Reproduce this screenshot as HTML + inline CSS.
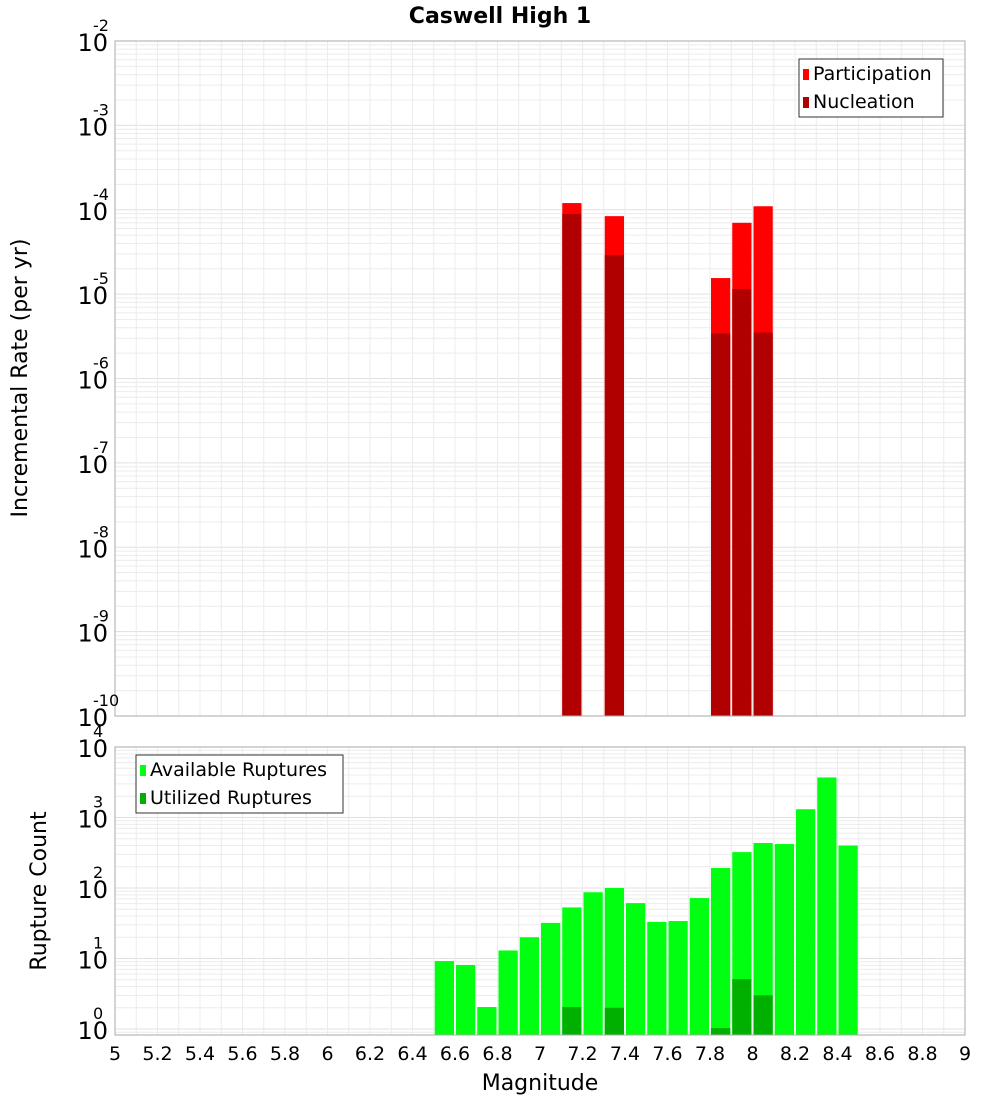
<!DOCTYPE html>
<html><head><meta charset="utf-8"><style>
body{margin:0;background:#fff}
svg{display:block;font-family:"Liberation Sans","DejaVu Sans",sans-serif}
</style></head><body>
<svg id="chart" width="1000" height="1100" xmlns="http://www.w3.org/2000/svg">
<rect width="1000" height="1100" fill="#fff"/>
<text x="500" y="23" text-anchor="middle" font-size="22" font-weight="bold" font-family="DejaVu Sans, sans-serif">Caswell High 1</text>
<g id="topPlot"></g>
<g id="botPlot"></g>
<text transform="translate(27,378) rotate(-90)" text-anchor="middle" font-size="22" font-family="DejaVu Sans, sans-serif">Incremental Rate (per yr)</text>
<text transform="translate(46,891) rotate(-90)" text-anchor="middle" font-size="22" font-family="DejaVu Sans, sans-serif">Rupture Count</text>
<text x="540" y="1090" text-anchor="middle" font-size="22" font-family="DejaVu Sans, sans-serif">Magnitude</text>
</svg>
<script>
const rateMags = [7.15, 7.35, 7.85, 7.95, 8.05];
const participation = [1.2e-4, 8.4e-5, 1.55e-5, 7.0e-5, 1.1e-4];
const nucleation = [8.9e-5, 2.9e-5, 3.4e-6, 1.15e-5, 3.5e-6];
const countMags = [6.55,6.65,6.75,6.85,6.95,7.05,7.15,7.25,7.35,7.45,7.55,7.65,7.75,7.85,7.95,8.05,8.15,8.25,8.35,8.45];
const available = [9.2,8.1,2.05,13,20,32,53,87,100,61,33,34,72,192,323,435,420,1310,3700,400];
const utilizedMags = [7.15, 7.35, 7.85, 7.95, 8.05];
const utilized = [2.05, 2.0, 1.03, 5.1, 3.0];
const xTicks = [5,5.2,5.4,5.6,5.8,6,6.2,6.4,6.6,6.8,7,7.2,7.4,7.6,7.8,8,8.2,8.4,8.6,8.8,9];
const topExps = [-2,-3,-4,-5,-6,-7,-8,-9,-10];
const botExps = [4,3,2,1,0];

const NS='http://www.w3.org/2000/svg';
const X0=115,X1=965;
const xs=m=>X0+(m-5)/4*(X1-X0);
function mk(p,tag,a){const e=document.createElementNS(NS,tag);for(const k in a)e.setAttribute(k,a[k]);p.appendChild(e);return e;}
const topY=v=>41+(-2-Math.log10(v))*(716-41)/8;
const botY=v=>747+(4-Math.log10(v))*70.5;

function frame(g,y0,y1,yf,lo,hi){
  for(let d=lo;d<hi;d++)for(let k=1;k<10;k++){const v=k*Math.pow(10,d);const y=yf(v);if(y<y0||y>y1)continue;
    const l=mk(g,'line',{x1:X0,x2:X1,y1:y,y2:y,stroke:k==1?'#e0e0e0':'#ececec','stroke-width':1});
    
    }
  for(let i=1;i<40;i++){const x=xs(5+i*0.1);const l=mk(g,'line',{x1:x,x2:x,y1:y0,y2:y1,stroke:'#ececec'});
    
    }
}
function border(g,y0,y1){const r=mk(g,'rect',{x:X0,y:y0,width:X1-X0,height:y1-y0,fill:'none',stroke:'#aaa'});
  
  }
function bar(g,m,v,yf,ybot,fill,name){const x=xs(m-0.05)+1,w=xs(m+0.05)-xs(m-0.05)-2;const y=yf(v);
  const r=mk(g,'rect',{x:x,y:y,width:w,height:ybot-y,fill:fill});
  
  }
function legend(g,x,y,w,items){const r=mk(g,'rect',{x:x,y:y,width:w,height:58,fill:'#fff',stroke:'#333'});
  
  
  items.forEach((it,i)=>{const s=mk(g,'rect',{x:x+4,y:y+10+i*28,width:6,height:11,fill:it[1]});
    
    
    const t=mk(g,'text',{x:x+14,y:y+21+i*28,'font-size':19,'font-family':'DejaVu Sans, sans-serif'});t.textContent=it[0];
    
    });}
function ylab(g,y,e){const t=mk(g,'text',{x:108,y:y+10,'text-anchor':'end','font-size':24,'font-family':'DejaVu Sans, sans-serif'});
  t.textContent='10';
  
  
  const s=mk(g,'text',{x:93,y:y-10,'font-size':16,'font-family':'DejaVu Sans, sans-serif'});s.textContent=String(e);
  
  }

const topG=document.getElementById('topPlot');
frame(topG,41,716,topY,-10,-2);
rateMags.forEach((m,i)=>bar(topG,m,participation[i],topY,716,'#ff0000','participation-bar'));
rateMags.forEach((m,i)=>bar(topG,m,nucleation[i],topY,716,'#b00000','nucleation-bar'));
border(topG,41,716);
topExps.forEach(e=>ylab(topG,topY(Math.pow(10,e)),e));
legend(topG,799,59,144,[['Participation','#ff0000'],['Nucleation','#b00000']]);

const botG=document.getElementById('botPlot');
frame(botG,747,1035,botY,-1,4);
countMags.forEach((m,i)=>bar(botG,m,available[i],botY,1035,'#00ff10','available-bar'));
utilizedMags.forEach((m,i)=>bar(botG,m,utilized[i],botY,1035,'#00b000','utilized-bar'));
border(botG,747,1035);
botExps.forEach(e=>ylab(botG,botY(Math.pow(10,e)),e));
legend(botG,136,755,207,[['Available Ruptures','#00ff10'],['Utilized Ruptures','#00b000']]);
xTicks.forEach(m=>{const t=mk(botG,'text',{x:xs(m),y:1060,'text-anchor':'middle','font-size':19,'font-family':'DejaVu Sans, sans-serif'});
  t.textContent=String(m);
  
  });
</script>
</body></html>
